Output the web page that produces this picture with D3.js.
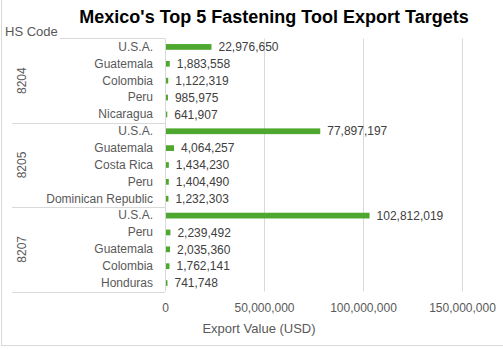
<!DOCTYPE html>
<html><head><meta charset="utf-8">
<script src="https://cdn.jsdelivr.net/npm/d3@7"></script>
<style>body{margin:0;background:#fff}text{font-family:"Liberation Sans",Arial,sans-serif}</style>
</head><body>
<svg id="c" width="503" height="349"></svg>
<script>
const groups = ["8204", "8205", "8207"];
const countries8204 = ["U.S.A.", "Guatemala", "Colombia", "Peru", "Nicaragua"];
const values8204 = [22976650, 1883558, 1122319, 985975, 641907];
const countries8205 = ["U.S.A.", "Guatemala", "Costa Rica", "Peru", "Dominican Republic"];
const values8205 = [77897197, 4064257, 1434230, 1404490, 1232303];
const countries8207 = ["U.S.A.", "Peru", "Guatemala", "Colombia", "Honduras"];
const values8207 = [102812019, 2239492, 2035360, 1762141, 741748];
const xTicks = [0, 50000000, 100000000, 150000000];

const rows = [];
[[countries8204, values8204], [countries8205, values8205], [countries8207, values8207]].forEach((g, gi) => {
  g[0].forEach((c, i) => rows.push({group: groups[gi], country: c, value: g[1][i], key: groups[gi] + "|" + c}));
});

const svg = d3.select("#c");
const gray = "#595959", grid = "#d9d9d9", green = "#4ea72e";
const yTop = 38.5, yBot = 291.5, x0 = 165, x1 = 462;

// chart border
svg.append("rect").attr("x", 1.5).attr("y", -5).attr("width", 520).attr("height", 350.5)
  .attr("fill", "none").attr("stroke", "#d9d9d9");

const x = d3.scaleLinear().domain([0, 150000000]).range([x0, x1]);
const y = d3.scaleBand().domain(rows.map(d => d.key)).range([yTop, yBot]).paddingInner(0.66).paddingOuter(0.33);

// gridlines
svg.append("g").selectAll("line").data(xTicks.slice(1)).join("line")
  .attr("x1", d => Math.round(x(d)) + 0.5).attr("x2", d => Math.round(x(d)) + 0.5)
  .attr("y1", yTop).attr("y2", yBot).attr("stroke", grid);

// x axis labels
const xa = svg.append("g").attr("transform", `translate(0,${yBot})`)
  .call(d3.axisBottom(x).tickValues(xTicks).tickSize(0).tickPadding(12).tickFormat(d3.format(",")));
xa.select(".domain").remove();
xa.selectAll("text").attr("fill", gray).attr("font-size", 12);

// category axis line
svg.append("line").attr("x1", x0 + 0.5).attr("x2", x0 + 0.5).attr("y1", yTop).attr("y2", yBot).attr("stroke", grid);

// group separators
const step = y.step();
const groupBounds = groups.map((g, gi) => ({g, y0: yTop + gi * 5 * step, y1: yTop + (gi + 1) * 5 * step}));
svg.append("line").attr("x1", 60).attr("x2", x0).attr("y1", yTop).attr("y2", yTop).attr("stroke", grid);
groupBounds.forEach(b => {
  svg.append("line").attr("x1", 12).attr("x2", x0).attr("y1", Math.round(b.y1) + 0.5).attr("y2", Math.round(b.y1) + 0.5).attr("stroke", grid);
  svg.append("text").attr("transform", `translate(26,${(b.y0 + b.y1) / 2}) rotate(-90)`)
    .attr("text-anchor", "middle").attr("fill", gray).attr("font-size", 12).text(b.g);
});

// category labels via axis
const ya = svg.append("g").attr("transform", `translate(${x0},0)`)
  .call(d3.axisLeft(y).tickSize(0).tickPadding(12).tickFormat(k => k.split("|")[1]));
ya.select(".domain").remove();
ya.selectAll("text").attr("fill", gray).attr("font-size", 12);

// bars
svg.append("g").selectAll("rect").data(rows).join("rect")
  .attr("x", x(0) + 1).attr("y", d => y(d.key)).attr("height", y.bandwidth())
  .attr("width", d => Math.max(1, x(d.value) - x(0))).attr("fill", green);

// value labels
svg.append("g").selectAll("text").data(rows).join("text")
  .attr("x", d => x(d.value) + 8).attr("y", d => y(d.key) + y.bandwidth() / 2).attr("dy", "0.35em")
  .attr("fill", "#404040").attr("font-size", 12).text(d => d3.format(",")(d.value));

// titles
svg.append("text").attr("x", 274).attr("y", 23).attr("text-anchor", "middle")
  .attr("font-weight", "bold").attr("font-size", 18).attr("fill", "#000")
  .text("Mexico's Top 5 Fastening Tool Export Targets");
svg.append("text").attr("x", 5).attr("y", 36).attr("fill", gray).attr("font-size", 13).text("HS Code");
svg.append("text").attr("x", 259).attr("y", 333).attr("text-anchor", "middle").attr("fill", gray)
  .attr("font-size", 13).text("Export Value (USD)");
</script>
</body></html>
